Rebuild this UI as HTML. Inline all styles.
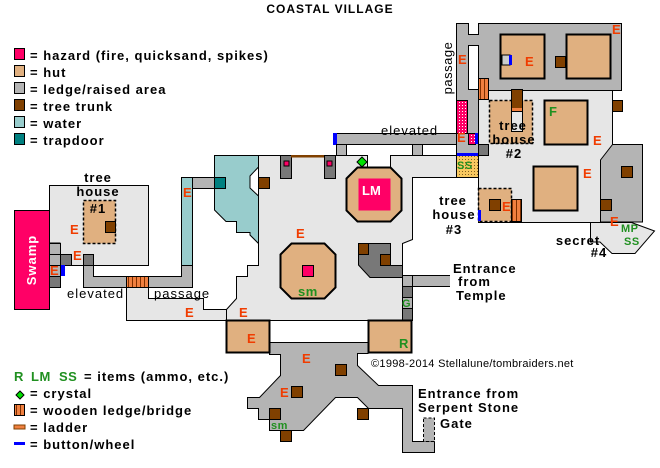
<!DOCTYPE html>
<html><head><meta charset="utf-8"><style>
html,body{margin:0;padding:0;background:#fff;}
svg{display:block;}
text{font-family:"Liberation Sans","DejaVu Sans",sans-serif;font-weight:bold;}
.e{fill:#f03c00;font-size:13px;}
.g{fill:#209020;font-size:13px;letter-spacing:0.5px;}
.k{fill:#000;font-size:13px;letter-spacing:1px;}
</style></head><body>
<svg width="660" height="468" viewBox="0 0 660 468" xmlns="http://www.w3.org/2000/svg">
<defs>
<pattern id="wood" width="4" height="4" patternUnits="userSpaceOnUse"><rect width="4" height="4" fill="#f08040"/><rect width="1" height="4" fill="#803000"/></pattern>
<pattern id="dots" width="3" height="3" patternUnits="userSpaceOnUse"><rect width="3" height="3" fill="#ff0066"/><rect width="1" height="1" fill="#fff"/></pattern>
<pattern id="ydots" width="3" height="3" patternUnits="userSpaceOnUse"><rect width="3" height="3" fill="#f8c860"/><rect width="1" height="1" fill="#806020"/></pattern>
</defs>
<text x="330" y="13" text-anchor="middle" class="k" style="font-size:12px">COASTAL VILLAGE</text>

<!-- legend top -->
<g stroke="#000" stroke-width="1">
<rect x="14.5" y="48.5" width="10" height="11" fill="#ff0066"/>
<rect x="14.5" y="65.5" width="10" height="11" fill="#e0b080"/>
<rect x="14.5" y="82.5" width="10" height="11" fill="#b4b4b4"/>
<rect x="14.5" y="99.5" width="10" height="11" fill="#804000"/>
<rect x="14.5" y="116.5" width="10" height="11" fill="#98cccc"/>
<rect x="14.5" y="133.5" width="10" height="11" fill="#008080"/>
</g>
<g class="k">
<text x="30" y="60">= hazard (fire, quicksand, spikes)</text>
<text x="30" y="77">= hut</text>
<text x="30" y="94">= ledge/raised area</text>
<text x="30" y="111">= tree trunk</text>
<text x="30" y="128">= water</text>
<text x="30" y="145">= trapdoor</text>
</g>

<!-- left tree house area -->
<g stroke="#000" stroke-width="1">
<path d="M126.5,287.5 H148.5 V298.5 H203.5 V309.5 H226.5 V320.5 H126.5 Z" fill="#e6e6e6"/>
<path d="M49.5,185.5 H148.5 V265.5 H60 V243 H49.5 Z" fill="#e6e6e6"/>
<rect x="14.5" y="210.5" width="35" height="99" fill="#ff0066"/>
<path d="M83.5,254.5 H93.5 V276.5 H181.5 V177.5 H214.5 V188.5 H192.5 V287.5 H83.5 Z" fill="#b4b4b4"/>
<rect x="181.5" y="177.5" width="11" height="88" fill="#98cccc"/>
<rect x="126.5" y="276.5" width="22" height="11" fill="url(#wood)"/>
<rect x="49.5" y="243.5" width="11" height="11" fill="#b4b4b4"/>
<rect x="49.5" y="254.5" width="11" height="11" fill="#b4b4b4"/>
<rect x="60.5" y="254.5" width="11" height="11" fill="#787878"/>
<rect x="83.5" y="254.5" width="10" height="11" fill="#787878"/>
<rect x="49.5" y="265.5" width="11" height="11" fill="#b4b4b4"/>
<rect x="49.5" y="276.5" width="11" height="11" fill="#787878"/>
<rect x="61" y="265" width="4" height="11" fill="#0000ff" stroke="none"/>
<rect x="83.5" y="200.5" width="32" height="43" fill="#e0b080" stroke-dasharray="3,2" stroke-width="1.5"/>
<rect x="105.5" y="221.5" width="10" height="11" fill="#804000"/>
</g>
<text x="31" y="260" transform="rotate(-90 31 260)" text-anchor="middle" style="font-size:13px;fill:#fff;font-weight:bold;letter-spacing:1px" dy="5">Swamp</text>
<text x="98" y="182" text-anchor="middle" class="k">tree</text>
<text x="98" y="196" text-anchor="middle" class="k">house</text>
<text x="98" y="213" text-anchor="middle" class="k">#1</text>
<text x="70" y="234" class="e">E</text>
<text x="73" y="260" class="e">E</text>
<text x="50" y="275" class="e">E</text>
<text x="183" y="197" class="e">E</text>
<text x="67" y="298" class="k" style="font-weight:normal">elevated</text>
<text x="154" y="298" class="k" style="font-weight:normal">passage</text>

<!-- main area -->
<g stroke="#000" stroke-width="1">
<path d="M258.5,155.5 H367.5 V167.5 H390.5 V155.5 H456.5 V177.5 H412.5 V239.5 L402.5,243.5 V320.5 H226.5 V309.5 L236.5,298.5 V276.5 H247.5 V265.5 H258.5 Z" fill="#e6e6e6"/>
<path d="M214.5,155.5 H258.5 V167 L250,176 V188 L258.5,196 V243.5 L250,235 V232.5 H236.5 V221.5 H226 L214.5,210 Z" fill="#98cccc"/>
<rect x="214.5" y="177.5" width="11" height="11" fill="#008080"/>
<path d="M358.5,254.5 L368,243.5 H390.5 V265.5 H402.5 V277.5 H370 L358.5,265 Z" fill="#787878"/>
<rect x="258.5" y="177.5" width="11" height="11" fill="#804000"/>
<rect x="280.5" y="155.5" width="11" height="23" fill="#787878"/>
<rect x="324.5" y="155.5" width="11" height="23" fill="#787878"/>
<rect x="284" y="161" width="5" height="5" fill="#ff0066"/>
<rect x="327" y="161" width="5" height="5" fill="#ff0066"/>
<rect x="291" y="155" width="33" height="2.5" fill="#804000" stroke="none"/>
<path d="M280.5,254.5 L291.5,243.5 H324.5 L335.5,254.5 V287.5 L324.5,298.5 H291.5 L280.5,287.5 Z" fill="#e0b080" stroke-width="2"/>
<rect x="302.5" y="265.5" width="11" height="11" fill="#ff0066"/>
<path d="M346.5,178.5 L357.5,167.5 H390.5 L401.5,178.5 V210.5 L390.5,221.5 H357.5 L346.5,210.5 Z" fill="#e0b080" stroke-width="2"/>
<rect x="358.5" y="178.5" width="32" height="32" fill="#ff0066" stroke="none"/>
<rect x="358.5" y="243.5" width="10" height="11" fill="#804000"/>
<rect x="380.5" y="254.5" width="10" height="11" fill="#804000"/>
<rect x="402.5" y="275.5" width="10" height="11" fill="#b4b4b4"/>
<rect x="402.5" y="286.5" width="10" height="11" fill="#787878"/>
<rect x="402.5" y="297.5" width="10" height="11" fill="#b4b4b4"/>
<rect x="402.5" y="308.5" width="10" height="12" fill="#787878"/>
<path d="M412.5,275.5 H450 M412.5,286.5 H450" stroke="#000"/>
<rect x="413" y="276" width="37" height="10" fill="#b4b4b4" stroke="none"/>
<!-- lower gray -->
<path d="M269.5,342.5 H368 V353.5 H357.5 V365.5 L378.5,385.5 H412.5 V441.5 H434.5 V452.5 H402.5 V408.5 H368.5 L357.5,397.5 H335.5 L303.5,430.5 H269.5 V419.5 H258.5 V408.5 H247.5 V397.5 H259.5 L280.5,375.5 V354.5 H269.5 Z" fill="#b4b4b4"/>
<rect x="423.5" y="418" width="11" height="23.5" fill="#b4b4b4" stroke-dasharray="3,2"/>
<rect x="226.5" y="320.5" width="43" height="32" fill="#e0b080" stroke-width="2"/>
<rect x="368.5" y="320.5" width="43" height="32" fill="#e0b080" stroke-width="2"/>
<rect x="335.5" y="364.5" width="11" height="11" fill="#804000"/>
<rect x="291.5" y="386.5" width="11" height="11" fill="#804000"/>
<rect x="269.5" y="408.5" width="11" height="11" fill="#804000"/>
<rect x="357.5" y="408.5" width="11" height="11" fill="#804000"/>
<rect x="280.5" y="430.5" width="11" height="11" fill="#804000"/>
<path d="M362,157 L367,162 L362,167 L357,162 Z" fill="#00e000" stroke-width="1"/>
<!-- elevated passage top -->
<rect x="336.5" y="133.5" width="124" height="11" fill="#b4b4b4"/>
<rect x="333" y="133" width="4" height="12" fill="#0000ff" stroke="none"/>
<rect x="336.5" y="144.5" width="10" height="11" fill="#b4b4b4"/>
<rect x="412.5" y="144.5" width="10" height="11" fill="#b4b4b4"/>
</g>
<text x="296" y="238" class="e">E</text>
<text x="247" y="343" class="e">E</text>
<text x="185" y="317" class="e">E</text>
<text x="239" y="317" class="e">E</text>
<text x="302" y="363" class="e">E</text>
<text x="280" y="397" class="e">E</text>
<text x="298" y="296" class="g">sm</text>
<text x="271" y="429" class="g" style="font-size:11px">sm</text>
<text x="362" y="195" style="font-size:13px;fill:#fff">LM</text>
<text x="402" y="307" class="g" style="font-size:11px">G</text>
<text x="399" y="348" class="g">R</text>
<text x="381" y="135" class="k" style="font-weight:normal">elevated</text>
<text x="453" y="273" class="k">Entrance</text>
<text x="458" y="286" class="k">from</text>
<text x="456" y="300" class="k">Temple</text>
<text x="371" y="367" class="k" style="font-weight:normal;font-size:11px;letter-spacing:0.3px">©1998-2014 Stellalune/tombraiders.net</text>
<text x="418" y="398" class="k">Entrance from</text>
<text x="418" y="412" class="k">Serpent Stone</text>
<text x="440" y="428" class="k">Gate</text>

<!-- right region -->
<g stroke="#000" stroke-width="1">
<path d="M456.5,23.5 H468.5 V34.5 H478.5 V23.5 H621.5 V90.5 H478.5 V155 H456.5 Z" fill="#b4b4b4"/>
<rect x="468.5" y="45.5" width="10" height="44" fill="#fff"/>
<path d="M600.5,144.5 H642.5 V222 L632,222 H600.5 L600,210 L600.5,144.5 Z" fill="#b4b4b4"/>
<path d="M590.5,222.5 H631.5 L654.5,231 L635,253.5 H612 L600,242 H590.5 Z" fill="#e6e6e6"/>
<path d="M478.5,90.5 H612.5 V144.5 L600.5,160 V222.5 H478.5 Z" fill="#e6e6e6"/>
<rect x="500.5" y="34.5" width="44" height="44" fill="#e0b080" stroke-width="2"/>
<rect x="566.5" y="34.5" width="44" height="44" fill="#e0b080" stroke-width="2"/>
<rect x="502" y="55" width="8" height="10" fill="#ccc"/>
<rect x="509" y="55" width="3" height="10" fill="#0000ff" stroke="none"/>
<rect x="555.5" y="56.5" width="10" height="11" fill="#804000"/>
<rect x="478.5" y="78.5" width="10" height="21" fill="url(#wood)"/>
<rect x="544.5" y="100.5" width="43" height="44" fill="#e0b080" stroke-width="2"/>
<rect x="533.5" y="166.5" width="44" height="44" fill="#e0b080" stroke-width="2"/>
<rect x="489.5" y="100.5" width="43" height="43" fill="#e0b080" stroke-dasharray="3,2" stroke-width="1.5"/>
<rect x="511.5" y="89.5" width="11" height="22" fill="#804000"/>
<rect x="511.5" y="111.5" width="11" height="20" fill="#e6e6e6"/>
<rect x="512" y="108" width="10" height="3" fill="#f08040" stroke="none"/>
<rect x="478.5" y="188.5" width="33" height="33" fill="#e0b080" stroke-dasharray="3,2" stroke-width="1.5"/>
<rect x="489.5" y="199.5" width="11" height="11" fill="#804000"/>
<rect x="511.5" y="199.5" width="10" height="22" fill="url(#wood)"/>
<rect x="478" y="210" width="3" height="11" fill="#0000ff" stroke="none"/>
<rect x="612.5" y="100.5" width="10" height="11" fill="#804000"/>
<rect x="621.5" y="166.5" width="11" height="11" fill="#804000"/>
<rect x="600.5" y="199.5" width="11" height="11" fill="#804000"/>
<rect x="456.5" y="100.5" width="11" height="33" fill="url(#dots)"/>
<rect x="468.5" y="133.5" width="7" height="11" fill="url(#dots)"/>
<rect x="475" y="133" width="3" height="11" fill="#0000ff" stroke="none"/>
<rect x="478.5" y="144.5" width="10" height="11" fill="#787878"/>
<rect x="456.5" y="155.5" width="22" height="22" fill="url(#ydots)"/>
<rect x="457" y="153" width="21" height="3" fill="#0000ff" stroke="none"/>
</g>
<text x="452" y="68" transform="rotate(-90 452 68)" text-anchor="middle" class="k" style="font-weight:normal;letter-spacing:0.5px">passage</text>
<text x="458" y="64" class="e">E</text>
<text x="612" y="34" class="e">E</text>
<text x="525" y="66" class="e">E</text>
<text x="457" y="142" class="e">E</text>
<text x="549" y="116" class="g">F</text>
<text x="593" y="145" class="e">E</text>
<text x="583" y="178" class="e">E</text>
<text x="502" y="211" class="e">E</text>
<text x="610" y="226" class="e">E</text>
<text x="621" y="232" class="g" style="font-size:11px">MP</text>
<text x="624" y="245" class="g" style="font-size:11px">SS</text>
<text x="457" y="169" class="g" style="font-size:11px">SS</text>
<text x="513" y="130" text-anchor="middle" class="k">tree</text>
<text x="514" y="144" text-anchor="middle" class="k">house</text>
<text x="514" y="158" text-anchor="middle" class="k">#2</text>
<text x="453" y="205" text-anchor="middle" class="k">tree</text>
<text x="454" y="219" text-anchor="middle" class="k">house</text>
<text x="454" y="234" text-anchor="middle" class="k">#3</text>
<text x="578" y="245" text-anchor="middle" class="k">secret</text>
<text x="599" y="257" text-anchor="middle" class="k">#4</text>

<!-- bottom legend -->
<g stroke="#000" stroke-width="1">
<path d="M20,391 L24,395 L20,399 L16,395 Z" fill="#00e000"/>
<rect x="14.5" y="404.5" width="10" height="11" fill="url(#wood)"/>
<rect x="14" y="425" width="11" height="4" fill="#f08040" stroke="#804000"/>
<rect x="14" y="442" width="11" height="3" fill="#0000ff" stroke="none"/>
</g>
<text x="14" y="381" class="g">R</text>
<text x="31" y="381" class="g">LM</text>
<text x="59" y="381" class="g">SS</text>
<text x="84" y="381" class="k">= items (ammo, etc.)</text>
<text x="30" y="398" class="k">= crystal</text>
<text x="30" y="415" class="k">= wooden ledge/bridge</text>
<text x="30" y="432" class="k">= ladder</text>
<text x="30" y="449" class="k">= button/wheel</text>
</svg>
</body></html>
